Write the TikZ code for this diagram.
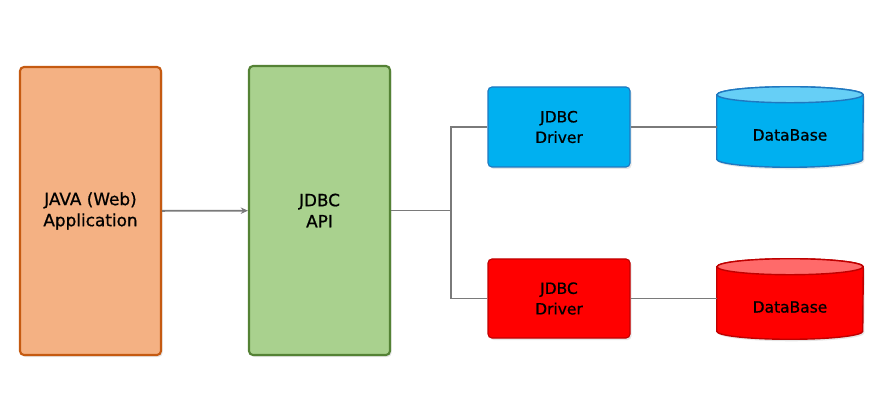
\documentclass[tikz,border=0pt]{standalone}
\usepackage{fontspec}
\setmainfont[FakeBold=0.8]{DejaVu Sans}
\usetikzlibrary{shadows,backgrounds,arrows.meta}

\definecolor{appfill}{HTML}{F4B183}
\definecolor{appline}{HTML}{C55A11}
\definecolor{apifill}{HTML}{A9D18E}
\definecolor{apiline}{HTML}{548235}
\definecolor{bluefill}{HTML}{00B0F0}
\definecolor{bluetop}{HTML}{66CFF6}
\definecolor{blueline}{HTML}{1F78C0}
\definecolor{redfill}{HTML}{FF0000}
\definecolor{redtop}{HTML}{FF6A6A}
\definecolor{redline}{HTML}{C00000}
\definecolor{linegray}{HTML}{7A7A7A}

% drum of a database, drawn round a named node
\newcommand\dbdrum[4]{%
  \path[draw=#4, fill=#2, line width=1pt, drop shadow={opacity=0.2, shadow xshift=0.04cm, shadow yshift=-0.05cm}]
    ([yshift=0.2cm]#1.north west) -- ([yshift=0.2cm]#1.south west)
    arc[start angle=180, end angle=360, x radius=1.825cm, y radius=0.2cm]
    -- ([yshift=0.2cm]#1.north east)
    arc[start angle=0, end angle=180, x radius=1.825cm, y radius=0.2cm] -- cycle;
  \path[draw=#4, fill=#3, line width=1pt] ([yshift=0.2cm]#1.north) ellipse[x radius=1.825cm, y radius=0.2cm];}

\begin{document}
\begin{tikzpicture}[>={Stealth[length=1.8mm,width=1.6mm]},
  box/.style={draw, rectangle, rounded corners=0.1cm, align=center,
    drop shadow={opacity=0.2, shadow xshift=0.04cm, shadow yshift=-0.05cm}},
  big/.style={font=\fontsize{12}{15}\selectfont},
  small/.style={font=\fontsize{11}{14.6}\selectfont},
  dbtext/.style={rectangle, minimum width=3.65cm, minimum height=1.6cm, small},
  link/.style={draw=linegray, line width=1.3pt}]
\useasboundingbox (0,0) rectangle (22.05,10.475);

\node[box, big, fill=appfill, draw=appline, line width=1.5pt, minimum width=3.525cm, minimum height=7.2cm] (app) at (2.2625,5.2) {JAVA (Web)\\Application};
\node[box, big, fill=apifill, draw=apiline, line width=1.5pt, minimum width=3.525cm, minimum height=7.225cm] (api) at (7.9875,5.2125) {JDBC\\API};
\node[box, small, fill=bluefill, draw=blueline, line width=0.8pt, minimum width=3.55cm, minimum height=2cm] (drv1) at (13.975,7.3) {JDBC\\Driver};
\node[box, small, fill=redfill, draw=redline, line width=0.8pt, minimum width=3.55cm, minimum height=1.975cm] (drv2) at (13.975,3.0125) {JDBC\\Driver};
\node[dbtext] (db1) at (19.75,7.1) {DataBase};
\node[dbtext] (db2) at (19.75,2.8) {DataBase};
\coordinate (split) at (11.275,5.2125);

\begin{scope}[on background layer]
\dbdrum{db1}{bluefill}{bluetop}{blueline}
\dbdrum{db2}{redfill}{redtop}{redline}
\end{scope}

\draw[->, link] (app) -- (api);
\draw[link] (api.east) -- (split);
\draw[link] (drv1.west) -| (split) |- (drv2.west);
\draw[link] (drv1) -- (drv1 -| db1.west);
\draw[link] (drv2) -- (drv2 -| db2.west);
\end{tikzpicture}
\end{document}
